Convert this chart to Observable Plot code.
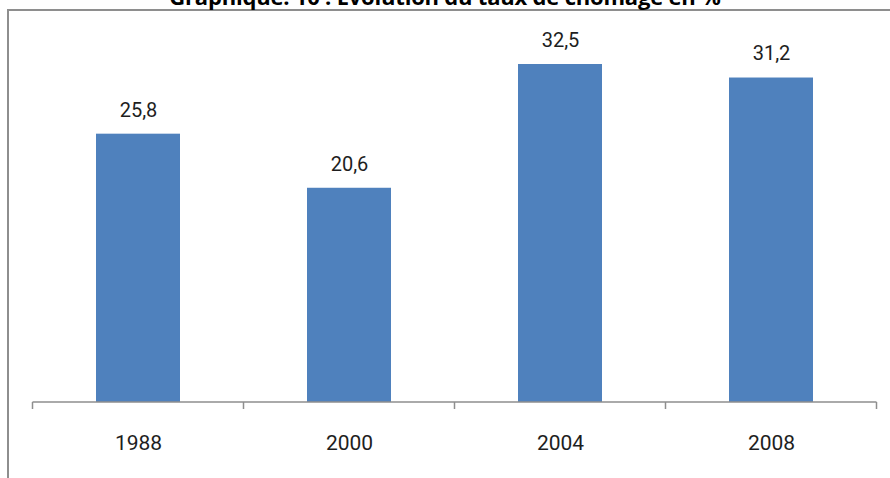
<!DOCTYPE html>
<html>
<head>
<meta charset="utf-8">
<script src="https://cdn.jsdelivr.net/npm/d3@7"></script>
<script src="https://cdn.jsdelivr.net/npm/@observablehq/plot@0.6"></script>
<style>
  html, body { margin: 0; padding: 0; background: #fff; }
  #wrap { position: relative; width: 890px; height: 478px; overflow: hidden; background: #fff; }
  #title { position: absolute; left: 0; width: 890px; top: -19px; text-align: center;
    font-family: "Open Sans", sans-serif; font-weight: 700; font-size: 22px; letter-spacing: -0.2px; color: #000; white-space: nowrap; }
  #frame { position: absolute; left: 7px; top: 9px; width: 900px; height: 500px;
    border-top: 2px solid #8e8e8e; border-left: 2px solid #8e8e8e; }
  #chart { position: absolute; left: 0; top: 0; }
</style>
</head>
<body>
<div id="wrap">
  <div id="chart"></div>
  <div id="frame"></div>
  <div id="title">Graphique: 10 : Evolution du taux de chômage en %</div>
</div>
<script>
const years = ["1988", "2000", "2004", "2008"];
const rates = [25.8, 20.6, 32.5, 31.2];
const labels = ["25,8", "20,6", "32,5", "31,2"];

const data = years.map((y, i) => ({year: y, rate: rates[i], label: labels[i]}));

const chart = Plot.plot({
  width: 890,
  height: 478,
  marginTop: 38,
  marginBottom: 76,
  marginLeft: 33,
  marginRight: 13,
  style: {fontFamily: "Roboto, sans-serif", background: "transparent"},
  x: {domain: years, paddingInner: 0.6, paddingOuter: 0.3, label: null},
  y: {domain: [0, 35], axis: null},
  marks: [
    Plot.barY(data, {x: "year", y: "rate", fill: "#4f81bd"}),
    Plot.text(data, {x: "year", y: "rate", text: "label", dy: -24, fontSize: 20, fill: "#1e1e1e"}),
    Plot.axisX({tickSize: 0, tickPadding: 33, fontSize: 21, fill: "#1e1e1e", label: null})
  ]
});
document.getElementById("chart").appendChild(chart);

// baseline and category boundary ticks, derived from the Plot scales
const xs = chart.scale("x");
const ys = chart.scale("y");
const step = xs.step, bw = xs.bandwidth;
const off = (step - bw) / 2;
const bounds = years.map(y => xs.apply(y) - off);
bounds.push(xs.apply(years[years.length - 1]) + bw + off);
const y0 = ys.apply(0);
const svg = d3.select(chart);
const g = svg.append("g").attr("stroke", "#8e8e8e").attr("stroke-width", 1.5);
g.append("line").attr("x1", bounds[0]).attr("x2", bounds[bounds.length - 1]).attr("y1", y0).attr("y2", y0);
bounds.forEach(b => g.append("line").attr("x1", b).attr("x2", b).attr("y1", y0).attr("y2", y0 + 7));
</script>
</body>
</html>
